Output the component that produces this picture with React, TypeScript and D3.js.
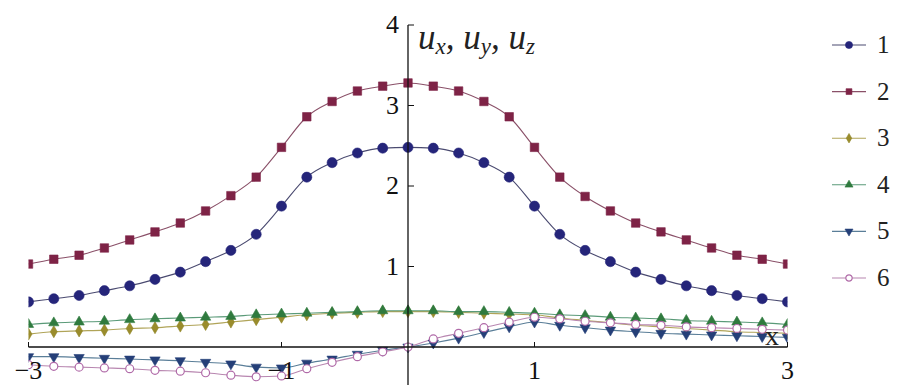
import React from 'react';
import * as d3 from 'd3';

// Sample positions along x
const xValues = [
  -3, -2.8, -2.6, -2.4, -2.2, -2, -1.8, -1.6, -1.4, -1.2, -1, -0.8, -0.6, -0.4, -0.2, 0,
  0.2, 0.4, 0.6, 0.8, 1, 1.2, 1.4, 1.6, 1.8, 2, 2.2, 2.4, 2.6, 2.8, 3,
];

const series1 = [
  0.56, 0.6, 0.64, 0.7, 0.76, 0.84, 0.93, 1.06, 1.2, 1.4, 1.75, 2.11, 2.29, 2.41, 2.47, 2.48,
  2.47, 2.41, 2.29, 2.11, 1.75, 1.4, 1.2, 1.06, 0.93, 0.84, 0.76, 0.7, 0.64, 0.6, 0.56,
];
const series2 = [
  1.03, 1.09, 1.14, 1.23, 1.33, 1.43, 1.54, 1.69, 1.88, 2.11, 2.48, 2.86, 3.05, 3.18, 3.24, 3.28,
  3.24, 3.18, 3.05, 2.86, 2.48, 2.11, 1.87, 1.69, 1.54, 1.43, 1.33, 1.23, 1.14, 1.09, 1.03,
];
const series3 = [
  0.16, 0.19, 0.2, 0.21, 0.23, 0.24, 0.26, 0.28, 0.31, 0.34, 0.37, 0.4, 0.42, 0.43, 0.44, 0.44,
  0.44, 0.43, 0.42, 0.41, 0.4, 0.36, 0.33, 0.3, 0.27, 0.25, 0.23, 0.21, 0.19, 0.18, 0.17,
];
const series4 = [
  0.28, 0.3, 0.31, 0.32, 0.34, 0.35, 0.36, 0.37, 0.38, 0.4, 0.41, 0.42, 0.43, 0.44, 0.45, 0.45,
  0.45, 0.44, 0.44, 0.43, 0.42, 0.4, 0.39, 0.37, 0.36, 0.35, 0.33, 0.32, 0.31, 0.3, 0.28,
];
const series5 = [
  -0.12, -0.12, -0.13, -0.14, -0.15, -0.16, -0.17, -0.19, -0.21, -0.25, -0.26, -0.2, -0.15, -0.09, -0.04, 0,
  0.05, 0.11, 0.18, 0.25, 0.31, 0.27, 0.24, 0.21, 0.19, 0.17, 0.16, 0.15, 0.14, 0.13, 0.12,
];
const series6 = [
  -0.22, -0.24, -0.25, -0.26, -0.27, -0.29, -0.3, -0.32, -0.35, -0.37, -0.36, -0.27, -0.19, -0.12, -0.06, 0,
  0.1, 0.17, 0.24, 0.31, 0.37, 0.35, 0.32, 0.3, 0.28, 0.27, 0.25, 0.24, 0.23, 0.22, 0.21,
];

const seriesNames = ['1', '2', '3', '4', '5', '6'];
const xTicks = [-3, -1, 1, 3];
const yTicks = [1, 2, 3, 4];

type Style = {
  stroke: string;
  fill: string;
  line: string;
  symbol: d3.SymbolType;
  size: number;
  legendSize: number;
  rotate?: number;
  open?: boolean;
};

const styles: Style[] = [
  { stroke: '#25257a', fill: '#25257a', line: '#4a4a70', symbol: d3.symbolCircle, size: 80, legendSize: 40 },
  { stroke: '#7e2346', fill: '#7e2346', line: '#8a5068', symbol: d3.symbolSquare, size: 72, legendSize: 34 },
  { stroke: '#8f8526', fill: '#9a8c2c', line: '#b0a458', symbol: d3.symbolDiamond, size: 42, legendSize: 26 },
  { stroke: '#2f7a3e', fill: '#2f7a3e', line: '#5a9a78', symbol: d3.symbolTriangle, size: 46, legendSize: 28 },
  { stroke: '#253f78', fill: '#253f78', line: '#5a7e98', symbol: d3.symbolTriangle, size: 46, legendSize: 28, rotate: 180 },
  { stroke: '#b06aa8', fill: '#ffffff', line: '#b886b0', symbol: d3.symbolCircle, size: 50, legendSize: 32, open: true },
];

const allSeries = [series1, series2, series3, series4, series5, series6];

const W = 901;
const H = 385;

export default function App() {
  const x = d3.scaleLinear().domain([-3, 3]).range([28.5, 787.5]);
  const y = d3.scaleLinear().domain([0, 4]).range([347, 25]);

  const line = d3
    .line<[number, number]>()
    .x((d) => x(d[0]))
    .y((d) => y(d[1]))
    .curve(d3.curveMonotoneX);

  const font = '"Times New Roman", "Liberation Serif", "DejaVu Serif", Times, serif';
  const x0 = x(0);
  const y0 = y(0);

  const marker = (s: Style, size: number, cx: number, cy: number, key: string) => (
    <path
      key={key}
      d={d3.symbol().type(s.symbol).size(size)() || ''}
      transform={`translate(${cx},${cy})${s.rotate ? ` rotate(${s.rotate})` : ''}`}
      fill={s.open ? '#fff' : s.fill}
      stroke={s.stroke}
      strokeWidth={s.open ? 1.2 : 0.6}
    />
  );

  return (
    <svg
      width={W}
      height={H}
      style={{ position: 'absolute', left: 0, top: 0, background: '#fff' }}
    >
      <defs>
        <clipPath id="plotArea">
          <rect x={x(-3)} y={0} width={x(3) - x(-3)} height={H} />
        </clipPath>
      </defs>

      {/* curves and markers */}
      <g clipPath="url(#plotArea)">
        {allSeries.map((vals, i) => {
          const pts = vals.map((v, j) => [xValues[j], v] as [number, number]);
          return (
            <path key={`s${i}`} d={line(pts) || ''} fill="none" stroke={styles[i].line} strokeWidth={1.1} />
          );
        })}
        {allSeries.map((vals, i) => (
          <g key={`m${i}`}>
            {vals.map((v, j) => marker(styles[i], styles[i].size, x(xValues[j]), y(v), `m${i}-${j}`))}
          </g>
        ))}
      </g>

      {/* axes */}
      <line x1={x(-3)} x2={x(3)} y1={y0} y2={y0} stroke="#111" strokeWidth={1.3} />
      <line x1={x0} x2={x0} y1={y(4)} y2={H} stroke="#111" strokeWidth={1.3} />
      {xTicks.map((t) => (
        <g key={`xt${t}`}>
          <line x1={x(t)} x2={x(t)} y1={y0} y2={y0 - 5} stroke="#111" strokeWidth={1} />
          <text x={x(t)} y={379} textAnchor="middle" fontFamily={font} fontSize={26} fill="#111">
            {t < 0 ? `\u2212${-t}` : `${t}`}
          </text>
        </g>
      ))}
      {yTicks.map((t) => (
        <g key={`yt${t}`}>
          <line x1={x0} x2={x0 + 6} y1={y(t)} y2={y(t)} stroke="#111" strokeWidth={1} />
          <text x={x0 - 9} y={y(t) + 8} textAnchor="end" fontFamily={font} fontSize={26} fill="#111">
            {t}
          </text>
        </g>
      ))}

      {/* axis labels */}
      <text x={418} y={49} fontFamily={font} fontSize={35} fontStyle="italic" fill="#222">
        <tspan>u</tspan>
        <tspan fontSize={23} dy={5}>x</tspan>
        <tspan dy={-5}>, u</tspan>
        <tspan fontSize={23} dy={5}>y</tspan>
        <tspan dy={-5}>, u</tspan>
        <tspan fontSize={23} dy={5}>z</tspan>
      </text>
      <text x={765} y={345} fontFamily={font} fontSize={28} fill="#222">
        x
      </text>

      {/* legend */}
      {seriesNames.map((name, i) => {
        const ly = 45 + i * 46.6;
        return (
          <g key={`lg${i}`}>
            <line x1={832} x2={866} y1={ly} y2={ly} stroke={styles[i].line} strokeWidth={1.1} />
            {marker(styles[i], styles[i].legendSize, 849, ly, `lm${i}`)}
            <text x={877} y={ly + 8} fontFamily={font} fontSize={25} fill="#222">
              {name}
            </text>
          </g>
        );
      })}
    </svg>
  );
}
